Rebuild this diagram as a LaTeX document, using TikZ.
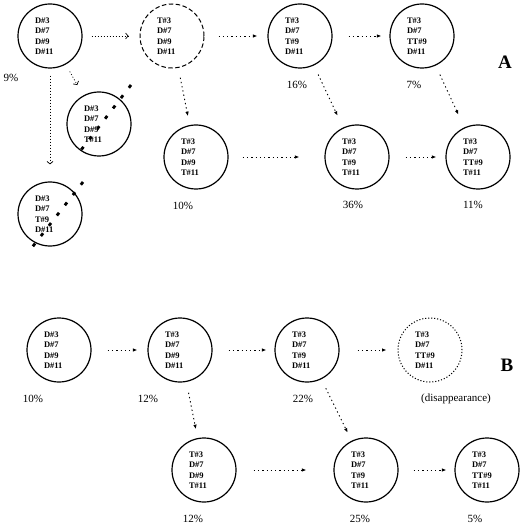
\documentclass[tikz,border=0pt]{standalone}
\usepackage{fontspec}
\setmainfont{Liberation Serif}
\usetikzlibrary{arrows.meta}
\begin{document}
\begin{tikzpicture}[x=1pt,y=-1pt,
  cell/.style={circle,draw,line width=1.2pt,minimum size=64pt,inner sep=0pt,
    text width=30pt,align=left,font=\fontsize{8.5}{10.5}\selectfont\bfseries},
  gone/.style={cell,dash pattern=on 4.5pt off 2.5pt,line width=1pt},
  lost/.style={cell,dash pattern=on 1.1pt off 1.9pt,line width=1pt},
  pct/.style={font=\fontsize{11}{13}\selectfont,inner sep=0pt},
  panel/.style={font=\fontsize{19}{22}\selectfont\bfseries,inner sep=0pt},
  flow/.style={dash pattern=on 1.3pt off 3pt,line width=0.9pt,
    -{Latex[length=4.5pt,width=3.5pt]}},
  open/.style={dash pattern=on 1pt off 2pt,line width=0.7pt,
    -{Straight Barb[length=2.5pt,width=6pt]}},
  cross/.style={line width=2.8pt,dash pattern=on 3.5pt off 9.5pt}]
\useasboundingbox (0,0) rectangle (520,529);
% ---- Panel A
\node[cell] (a1) at (50,36) {D\#3\\D\#7\\D\#9\\D\#11};
\node[gone] (a2) at (172,36) {T\#3\\D\#7\\D\#9\\D\#11};
\node[cell] (a3) at (300,36) {T\#3\\D\#7\\T\#9\\D\#11};
\node[cell] (a4) at (422,36) {T\#3\\D\#7\\TT\#9\\D\#11};
\node[cell] (x1) at (99,124) {D\#3\\D\#7\\D\#9\\T\#11};
\node[cell] (x2) at (50,214) {D\#3\\D\#7\\T\#9\\D\#11};
\node[cell] (a5) at (196,157) {T\#3\\D\#7\\D\#9\\T\#11};
\node[cell] (a6) at (357,157) {T\#3\\D\#7\\T\#9\\T\#11};
\node[cell] (a7) at (478,157) {T\#3\\D\#7\\TT\#9\\T\#11};
\node[pct] (pa1) at (11,78) {9\%};
\node[pct] (pa3) at (297,85) {16\%};
\node[pct] (pa4) at (414,85) {7\%};
\node[pct] (pa5) at (183,206) {10\%};
\node[pct] (pa6) at (353,205) {36\%};
\node[pct] (pa7) at (473,205) {11\%};
\node[panel] (lA) at (505,62) {A};
\draw[open,shorten <=9pt,shorten >=11pt] (a1) -- (a2);
\draw[open,shorten <=8pt,shorten >=12pt] (a1) -- (x1);
\draw[open,shorten <=7pt,shorten >=17pt] (a1) -- (x2);
\draw[flow,shorten <=14pt,shorten >=10pt] (a2) -- (a3);
\draw[flow,shorten <=16pt,shorten >=8pt] (a3) -- (a4);
\draw[flow,shorten <=10pt,shorten >=9pt] (a2) -- (a5);
\draw[flow,shorten <=10pt,shorten >=13pt] (a3) -- (a6);
\draw[flow,shorten <=10pt,shorten >=14pt] (a4) -- (a7);
\draw[flow,shorten <=14pt,shorten >=25pt] (a5) -- (a6);
\draw[flow,shorten <=16pt,shorten >=9pt] (a6) -- (a7);
\coordinate (c1a) at (131,85);
\coordinate (c1b) at (78,154);
\coordinate (c2a) at (83,182);
\coordinate (c2b) at (30,250);
\draw[cross] (c1a) -- (c1b);
\draw[cross] (c2a) -- (c2b);
% ---- Panel B
\node[cell] (b1) at (59,350) {D\#3\\D\#7\\D\#9\\D\#11};
\node[cell] (b2) at (180,350) {T\#3\\D\#7\\D\#9\\D\#11};
\node[cell] (b3) at (307,350) {T\#3\\D\#7\\T\#9\\D\#11};
\node[lost] (b4) at (430,350) {T\#3\\D\#7\\TT\#9\\D\#11};
\node[cell] (b5) at (204,470) {T\#3\\D\#7\\D\#9\\T\#11};
\node[cell] (b6) at (366,470) {T\#3\\D\#7\\T\#9\\T\#11};
\node[cell] (b7) at (487,470) {T\#3\\D\#7\\TT\#9\\T\#11};
\node[pct] (pb1) at (33,399) {10\%};
\node[pct] (pb2) at (148,399) {12\%};
\node[pct] (pb3) at (303,399) {22\%};
\node[pct] (pb4) at (456,399) {(disappearance)};
\node[pct] (pb5) at (193,519) {12\%};
\node[pct] (pb6) at (360,519) {25\%};
\node[pct] (pb7) at (475,519) {5\%};
\node[panel] (lB) at (507,365) {B};
\draw[flow,shorten <=16pt,shorten >=10pt] (b1) -- (b2);
\draw[flow,shorten <=16pt,shorten >=8pt] (b2) -- (b3);
\draw[flow,shorten <=18pt,shorten >=11pt] (b3) -- (b4);
\draw[flow,shorten <=11pt,shorten >=9pt] (b2) -- (b5);
\draw[flow,shorten <=10pt,shorten >=9pt] (b3) -- (b6);
\draw[flow,shorten <=17pt,shorten >=27pt] (b5) -- (b6);
\draw[flow,shorten <=15pt,shorten >=8pt] (b6) -- (b7);
\end{tikzpicture}
\end{document}
